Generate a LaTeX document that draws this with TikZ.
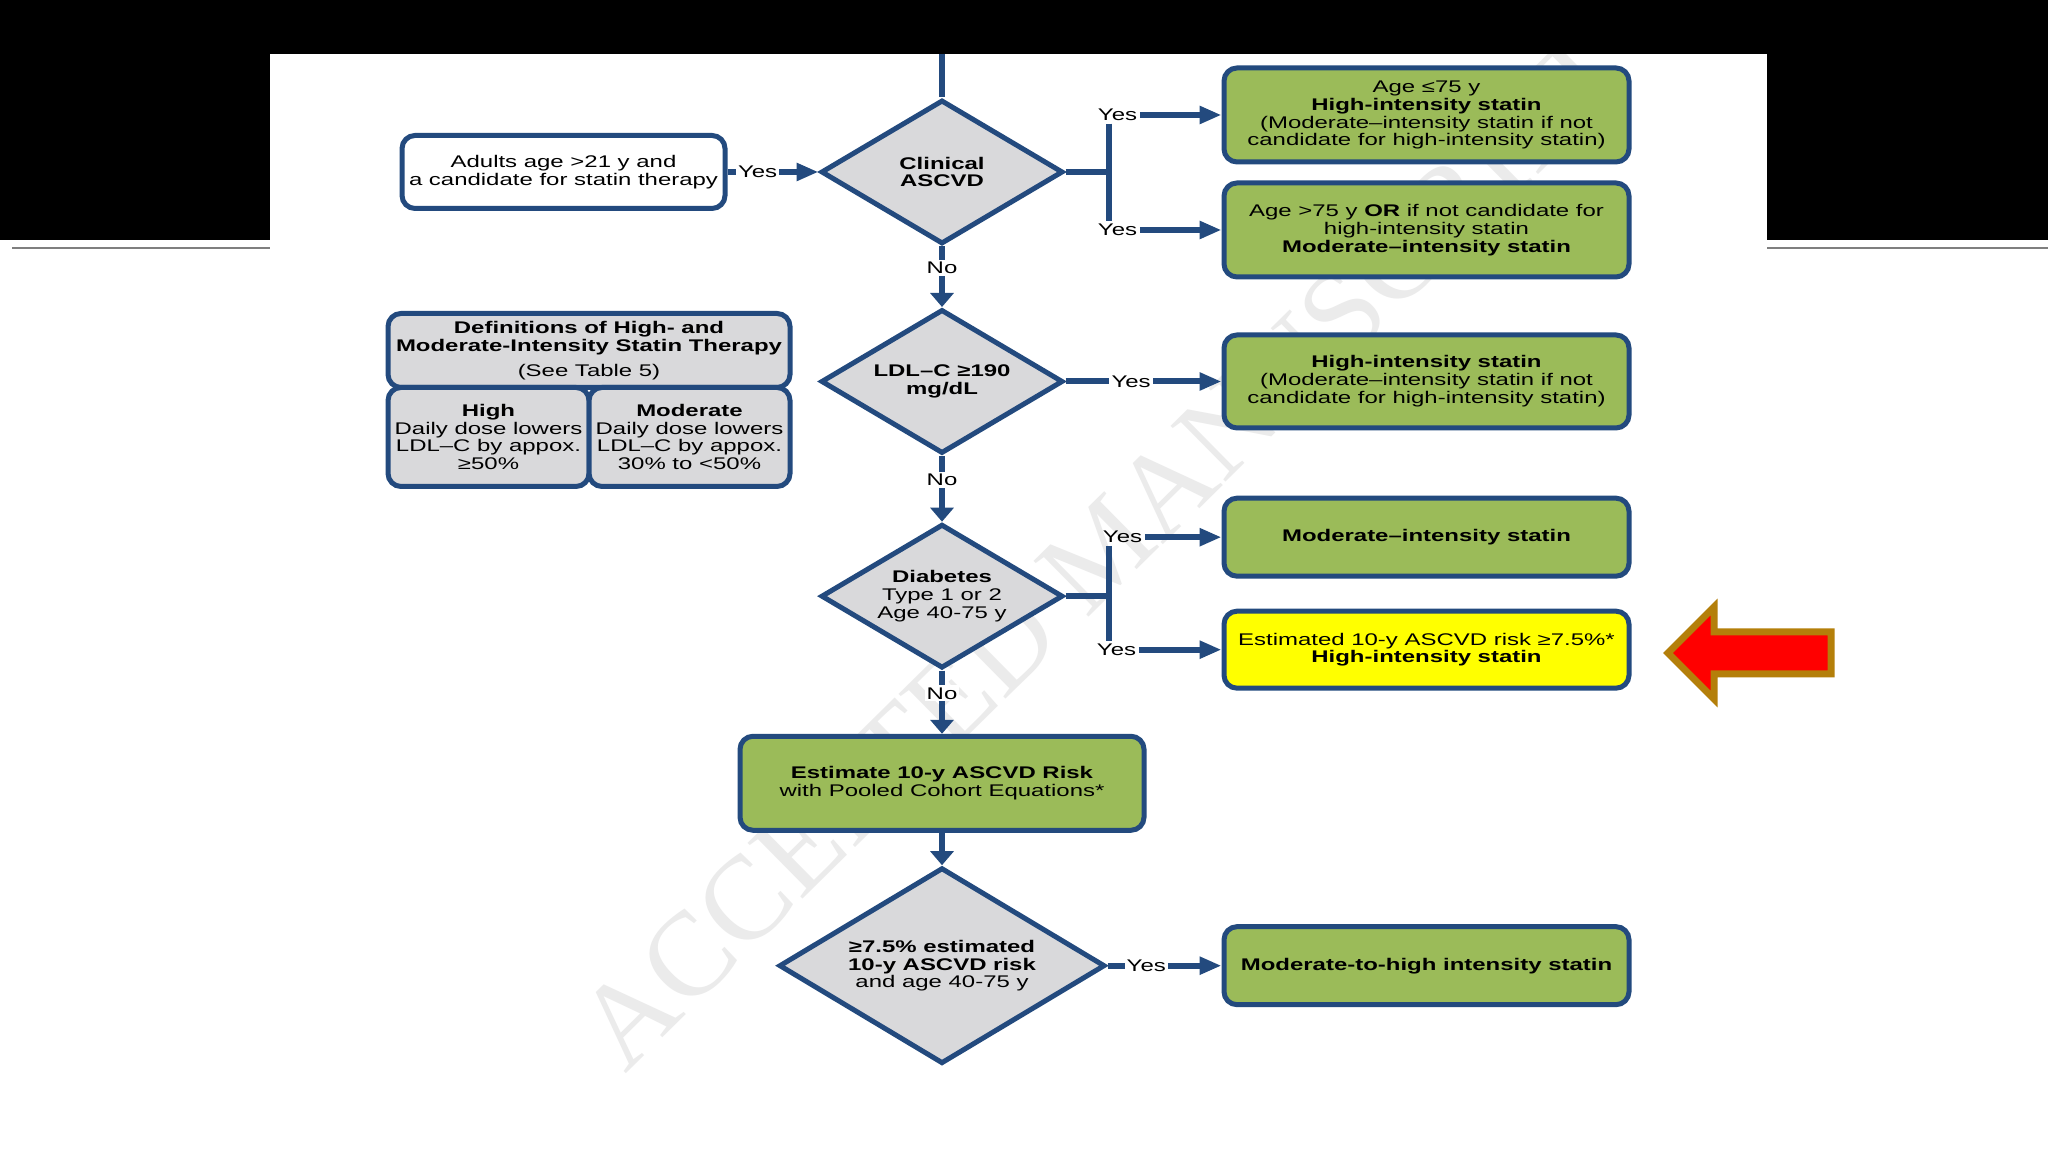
\documentclass[tikz,border=0pt]{standalone}
\usepackage{fontspec}
\setmainfont{Liberation Sans}[FakeStretch=1.42]
\newfontfamily\stampfont{Liberation Serif}
\usetikzlibrary{arrows.meta,positioning,shapes.geometric}
\definecolor{Navy}{HTML}{234A7E}
\definecolor{Leaf}{HTML}{9BBB59}
\definecolor{Cloud}{HTML}{D9D9DB}
\definecolor{Sun}{HTML}{FFFF00}
\definecolor{Ochre}{HTML}{B47F0A}
\definecolor{Stamp}{HTML}{EBEBEB}
\definecolor{Rule}{HTML}{7F7F7F}
\newcommand{\flowfont}{\fontsize{4.8}{5.1}\selectfont}

\begin{document}
\begin{tikzpicture}[
    x=0.1mm,y=-0.1mm,
    node distance=6.5mm,
    box/.style={draw=Navy,fill=Leaf,line width=0.5mm,rounded corners=1.3mm,align=center,
      minimum width=40.5mm,minimum height=9.4mm,inner sep=0pt,font=\flowfont},
    greybox/.style={box,fill=Cloud},
    decision/.style={diamond,draw=Navy,fill=Cloud,line width=0.5mm,aspect=1.7,align=center,
      minimum width=24.2mm,minimum height=14.4mm,inner sep=0pt,font=\flowfont},
    lbl/.style={fill=white,inner sep=0.6pt,font=\flowfont},
    link/.style={line width=0.6mm,draw=Navy},
    arrow/.style={link,-{Triangle[length=2.2mm,width=1.7mm]}},
    drop/.style={link,-{Triangle[length=1.4mm,width=2.3mm]}}
  ]
  \fill[white] (0,0) rectangle (2048,1152);
  \useasboundingbox (0,0) rectangle (2048,1152);

  % watermark behind the chart
  \node[rotate=44.6,text=Stamp,font=\stampfont\fontsize{34}{34}\selectfont] (stamp) at (1103,549) {ACCEPTED MANUSCRIPT};

  % slide frame
  \fill[black] (0,0) rectangle (2048,54);
  \fill[black] (0,0) rectangle (270,240);
  \fill[black] (1767,0) rectangle (2048,240);
  \draw[Rule,line width=0.25mm] (12,248) -- (270,248);
  \draw[Rule,line width=0.25mm] (1767,248) -- (2048,248);

  % main column
  \node[decision] (ascvd) at (942,172) {\textbf{Clinical}\\\textbf{ASCVD}};
  \node[decision,below=6.05mm of ascvd] (ldl) {\textbf{LDL–C ≥190}\\\textbf{mg/dL}};
  \node[decision,below=6.57mm of ldl] (diab) {\textbf{Diabetes}\\Type 1 or 2\\Age 40-75 y};
  \node[box,below=6.31mm of diab,minimum width=40.4mm] (risk) {\textbf{Estimate 10-y ASCVD Risk}\\with Pooled Cohort Equations*};
  \node[decision,below=3.24mm of risk,minimum width=32.6mm,minimum height=19.6mm] (pce) {\textbf{≥7.5\% estimated}\\\textbf{10-y ASCVD risk}\\and age 40-75 y};

  \node[box,fill=white,left=9.1mm of ascvd,minimum width=32.3mm,minimum height=7.3mm] (adults) {Adults age >21 y and\\a candidate for statin therapy};

  % definitions panel
  \node[greybox,left=2.6mm of ldl,yshift=3.1mm,minimum width=40.2mm,minimum height=7.4mm] (defs) {\textbf{Definitions of High- and}\\\textbf{Moderate-Intensity Statin Therapy}\\[2pt](See Table 5)};
  \node[greybox,anchor=north west,yshift=0.5mm,minimum width=20.1mm,minimum height=9.9mm] (defhigh) at (defs.south west) {\textbf{High}\\Daily dose lowers\\LDL–C by appox.\\≥50\%};
  \node[greybox,anchor=north east,yshift=0.5mm,minimum width=20.1mm,minimum height=9.9mm] (defmod) at (defs.south east) {\textbf{Moderate}\\Daily dose lowers\\LDL–C by appox.\\30\% to <50\%};

  % outcomes
  \node[box,right=15.6mm of ascvd,yshift=5.7mm] (young) {Age ≤75 y\\\textbf{High-intensity statin}\\(Moderate–intensity statin if not\\candidate for high-intensity statin)};
  \node[box,right=15.6mm of ascvd,yshift=-5.8mm] (old) {Age >75 y \textbf{OR} if not candidate for\\high-intensity statin\\\textbf{Moderate–intensity statin}};
  \node[box,right=15.6mm of ldl,minimum height=9.3mm] (severe) {\textbf{High-intensity statin}\\(Moderate–intensity statin if not\\candidate for high-intensity statin)};
  \node[box,right=15.6mm of diab,yshift=5.9mm,minimum height=7.8mm] (modstatin) {\textbf{Moderate–intensity statin}};
  \node[box,fill=Sun,right=15.6mm of diab,yshift=-5.35mm,minimum height=7.7mm] (diabrisk) {Estimated 10-y ASCVD risk ≥7.5\%*\\\textbf{High-intensity statin}};
  \node[box,right=11.4mm of pce,minimum height=7.8mm] (modhigh) {\textbf{Moderate-to-high intensity statin}};

  % connectors
  \coordinate (entry) at (942,54);
  \draw[link] (entry) -- (ascvd);
  \draw[arrow] (adults) -- node[lbl,pos=0.33] {Yes} (ascvd);

  \coordinate[right=4.3mm of ascvd.east] (fork1);
  \node[lbl,fill=none,xshift=0.9mm] (yes1) at (fork1 |- young) {Yes};
  \node[lbl,fill=none,xshift=0.9mm] (yes2) at (fork1 |- old) {Yes};
  \draw[link] (ascvd) -- (fork1);
  \draw[link] (fork1 |- yes1.south) -- (fork1 |- yes2.north);
  \draw[arrow] (yes1) -- (young);
  \draw[arrow] (yes2) -- (old);

  \draw[drop] (ascvd) -- node[lbl,pos=0.36] {No} (ldl);
  \draw[arrow] (ldl) -- node[lbl,pos=0.42] {Yes} (severe);
  \draw[drop] (ldl) -- node[lbl,pos=0.36] {No} (diab);

  \coordinate[right=4.3mm of diab.east] (fork2);
  \node[lbl,fill=none,xshift=1.4mm] (yes3) at (fork2 |- modstatin) {Yes};
  \node[lbl,fill=none,xshift=0.8mm] (yes4) at (fork2 |- diabrisk) {Yes};
  \draw[link] (diab) -- (fork2);
  \draw[link] (fork2 |- yes3.south) -- (fork2 |- yes4.north);
  \draw[arrow] (yes3) -- (modstatin);
  \draw[arrow] (yes4) -- (diabrisk);

  \draw[drop] (diab) -- node[lbl,pos=0.36] {No} (risk);
  \draw[drop] (risk) -- (pce);
  \draw[arrow] (pce) -- node[lbl,pos=0.34] {Yes} (modhigh);

  % red pointer
  \draw[Ochre,fill=red,line width=0.7mm,line join=miter] (1668,653) -- (1714,607) -- (1714,632) -- (1831,632) -- (1831,674) -- (1714,674) -- (1714,699) -- cycle;
\end{tikzpicture}
\end{document}
